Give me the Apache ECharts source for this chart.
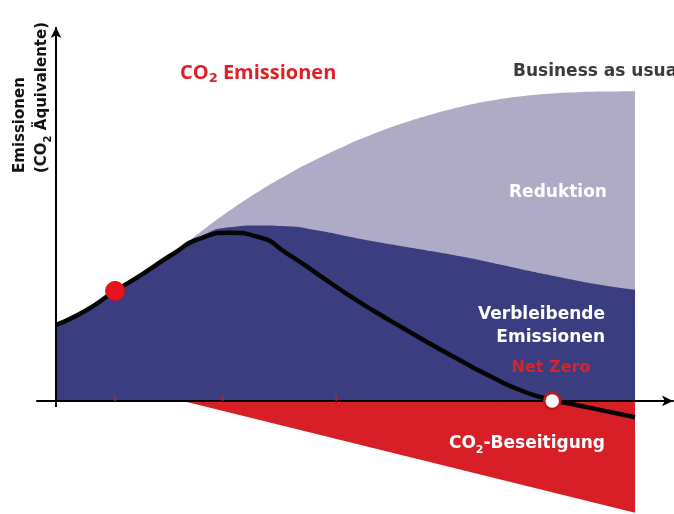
<!DOCTYPE html>
<html><head><meta charset="utf-8">
<script src="https://cdn.jsdelivr.net/npm/echarts@6/dist/echarts.min.js"></script>
<style>html,body{margin:0;padding:0;background:#fff}#c{width:674px;height:514px}</style>
</head><body><div id="c"></div>
<script>
// x: time (0 = start, 100 = end of horizon), y: emissions in CO2 equivalents (100 = BAU level)
const years = [0,5,10,15,20,25,30,35,40,45,50,55,60,65,70,75,80,85,90,95,100];
const netEmissions       = [24.6,29.1,35.3,41.1,47.3,52.6,54.4,53.0,47.6,41.3,34.9,29.0,23.5,18.1,12.9,8.0,3.6,0.6,-1.4,-3.3,-5.3];
const remainingEmissions = [24.6,29.1,35.3,41.1,47.3,53.2,56.2,56.8,56.5,55.2,53.4,51.6,50.0,48.4,46.7,44.8,42.8,40.8,38.9,37.3,36.0];
const businessAsUsual    = [24.6,29.1,35.3,41.1,47.3,54.7,61.6,67.8,73.3,78.2,82.6,86.5,89.9,92.8,95.2,97.1,98.5,99.4,99.9,100.1,100.2];
const removalYears = [21.9,100];
const co2Removal   = [0,-36.2];
const todayPoint = [10.2,35.6];
const netZeroPoint = [85.7,0];
const tickXs = [10.2,28.8,48.4];
const yAxisExtent = [-2,121];

const pair = (xs, ys) => xs.map((x, i) => [x, ys[i]]);
const FONT = 'DejaVu Sans';
const chart = echarts.init(document.getElementById('c'), null, {renderer:'canvas'});
const subStyle = (fill, size) => ({fontSize:size, fontWeight:'bold', fontFamily:FONT, fill:fill, color:fill, verticalAlign:'bottom', lineHeight:24});
const mainStyle = (fill, size, family) => ({fontSize:size, fontWeight:'bold', fontFamily:family || FONT, fill:fill, color:fill, lineHeight:24});
chart.setOption({
  animation:false,
  backgroundColor:'#ffffff',
  grid:{left:37, right:1, top:27, bottom:0, containLabel:false},
  xAxis:{type:'value', min:-3.28, max:106.56, z:5,
    axisLine:{show:true, onZero:true, symbol:['none','arrow'], symbolSize:[8,11], lineStyle:{color:'#000', width:2}},
    axisTick:{show:false}, axisLabel:{show:false}, splitLine:{show:false}},
  yAxis:{type:'value', min:-36.6, max:121,
    axisLine:{show:false}, axisTick:{show:false}, axisLabel:{show:false}, splitLine:{show:false}},
  series:[
    {name:'CO2-Beseitigung', type:'line', data:pair(removalYears, co2Removal), symbol:'none', z:1,
      lineStyle:{width:0}, areaStyle:{color:'#d81f27', opacity:1}},
    {name:'Business as usual', type:'line', data:pair(years, businessAsUsual), symbol:'none', smooth:0.5, z:2,
      lineStyle:{width:0}, areaStyle:{color:'#afaac5', opacity:1}},
    {name:'Verbleibende Emissionen', type:'line', data:pair(years, remainingEmissions), symbol:'none', smooth:0.6, z:3,
      lineStyle:{width:0}, areaStyle:{color:'#3a3d80', opacity:1}},
    {name:'ticks', type:'scatter', data:tickXs.map(x=>[x,0]), symbol:'rect', symbolSize:[1.5,6], symbolOffset:[0,-3], z:6,
      itemStyle:{color:'#a8283c', opacity:1}, silent:true},
    {name:'Netto-Emissionen', type:'line', data:pair(years, netEmissions), symbol:'none', smooth:0.6, z:7,
      lineStyle:{color:'#050505', width:4.5},
      markLine:{silent:true, symbol:['none','arrow'], symbolSize:[8,11], label:{show:false},
        lineStyle:{color:'#000', width:2, type:'solid'},
        data:[[{coord:[0,yAxisExtent[0]]},{coord:[0,yAxisExtent[1]]}]]}},
    {name:'Heute', type:'scatter', data:[todayPoint], symbol:'circle', symbolSize:19, z:8,
      itemStyle:{color:'#e8141c', borderColor:'#d41018', borderWidth:1, opacity:1}},
    {name:'Net Zero', type:'scatter', data:[netZeroPoint], symbol:'circle', symbolSize:16, z:8,
      itemStyle:{color:'#ffffff', borderColor:'#c4161e', borderWidth:2.5, opacity:1}}
  ],
  graphic:[
    {type:'text', position:[180,73], z:20, style:{text:'{a|CO}{s|2}{a| Emissionen}', x:0, y:0, align:'left', verticalAlign:'middle', rich:{
      a:mainStyle('#e01e25', 20, 'Open Sans'), s:subStyle('#e01e25', 13)}}},
    {type:'text', position:[513,72], z:20, style:{text:'Business as usual', x:0, y:0, align:'left', verticalAlign:'middle', fontSize:17, fontWeight:'bold', fontFamily:FONT, fill:'#3b3b3b'}},
    {type:'text', position:[558,193], z:20, style:{text:'Reduktion', x:0, y:0, align:'center', verticalAlign:'middle', fontSize:17, fontWeight:'bold', fontFamily:FONT, fill:'#ffffff'}},
    {type:'text', position:[605,326], z:20, style:{text:'Verbleibende\nEmissionen', x:0, y:0, align:'right', verticalAlign:'middle', lineHeight:23, fontSize:17, fontWeight:'bold', fontFamily:FONT, fill:'#ffffff'}},
    {type:'text', position:[551,368], z:20, style:{text:'Net Zero', x:0, y:0, align:'center', verticalAlign:'middle', fontSize:16, fontWeight:'bold', fontFamily:FONT, fill:'#d9232b'}},
    {type:'text', position:[605,444], z:20, style:{text:'{a|CO}{s|2}{a|-Beseitigung}', x:0, y:0, align:'right', verticalAlign:'middle', rich:{
      a:mainStyle('#ffffff', 17), s:subStyle('#ffffff', 11)}}},
    {type:'text', position:[31,173], rotation:Math.PI/2, z:20, style:{text:'{a|Emissionen}\n{a|(CO}{s|2}{a| Äquivalente)}', x:0, y:0, align:'left', verticalAlign:'middle', rich:{
      a:Object.assign(mainStyle('#111111', 15), {lineHeight:22}), s:Object.assign(subStyle('#111111', 10), {lineHeight:22})}}}
  ]
});
</script></body></html>
